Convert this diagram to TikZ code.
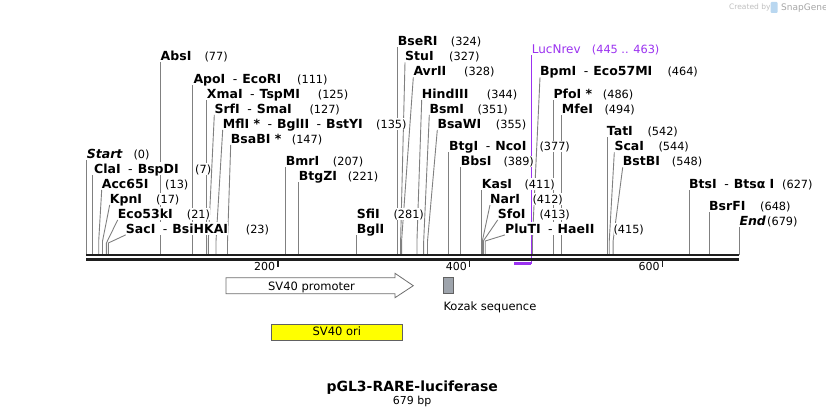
\documentclass[tikz,border=0pt]{standalone}
\usepackage{fontspec}
\setmainfont{DejaVu Sans}

\definecolor{leadgray}{RGB}{128,128,128}
\definecolor{seqblack}{RGB}{30,30,30}
\definecolor{primerpurple}{RGB}{155,50,240}
\definecolor{kozakgray}{RGB}{158,164,172}
\definecolor{featline}{RGB}{110,110,110}
\definecolor{orifill}{RGB}{255,255,0}
\definecolor{logoblue}{RGB}{185,215,240}

\pgfdeclarelayer{background}
\pgfsetlayers{background,main}

% base pair -> x in px
\newcommand{\bpx}[1]{86.2+0.9615*#1}
\newcommand{\cutsep}{\hspace{7.5pt}{\mdseries -}\hspace{5pt}}

\tikzset{
  enzyme/.style={anchor=base west, inner xsep=0pt, inner ysep=1.5pt, text depth=0pt,
    fill=white, font=\fontsize{12.5}{13}\selectfont\bfseries},
  cutpos/.style={enzyme, font=\fontsize{11.3}{12}\selectfont},
  leader/.style={draw=leadgray, line width=0.9pt},
  primer/.style={draw=primerpurple, line width=1.1pt},
  seqline/.style={draw=seqblack},
  feattext/.style={anchor=base, inner sep=0pt, font=\fontsize{11.5}{12}\selectfont},
}

\begin{document}
\begin{tikzpicture}[x=1pt,y=-1pt]
\useasboundingbox (0,0) rectangle (826,417);

% cut sites
\coordinate (sStart) at ({\bpx{0}},255);
\coordinate (sClaI) at ({\bpx{7}},255);
\coordinate (sAcc65I) at ({\bpx{13}},255);
\coordinate (sKpnI) at ({\bpx{17}},255);
\coordinate (sEco53kI) at ({\bpx{21}},255);
\coordinate (sSacI) at ({\bpx{23}},255);
\coordinate (sAbsI) at ({\bpx{77}},255);
\coordinate (sApoI) at ({\bpx{111}},255);
\coordinate (sXmaI) at ({\bpx{125}},255);
\coordinate (sSrfI) at ({\bpx{127}},255);
\coordinate (sMflI) at ({\bpx{135}},255);
\coordinate (sBsaBI) at ({\bpx{147}},255);
\coordinate (sBmrI) at ({\bpx{207}},255);
\coordinate (sBtgZI) at ({\bpx{221}},255);
\coordinate (sSfiI) at ({\bpx{281}},255);
\coordinate (sBseRI) at ({\bpx{324}},255);
\coordinate (sStuI) at ({\bpx{327}},255);
\coordinate (sAvrII) at ({\bpx{328}},255);
\coordinate (sHindIII) at ({\bpx{344}},255);
\coordinate (sBsmI) at ({\bpx{351}},255);
\coordinate (sBsaWI) at ({\bpx{355}},255);
\coordinate (sBtgI) at ({\bpx{377}},255);
\coordinate (sBbsI) at ({\bpx{389}},255);
\coordinate (sKasI) at ({\bpx{411}},255);
\coordinate (sNarI) at ({\bpx{412}},255);
\coordinate (sSfoI) at ({\bpx{413}},255);
\coordinate (sPluTI) at ({\bpx{415}},255);
\coordinate (sBpmI) at ({\bpx{464}},255);
\coordinate (sPfoI) at ({\bpx{486}},255);
\coordinate (sMfeI) at ({\bpx{494}},255);
\coordinate (sTatI) at ({\bpx{542}},255);
\coordinate (sScaI) at ({\bpx{544}},255);
\coordinate (sBstBI) at ({\bpx{548}},255);
\coordinate (sBtsI) at ({\bpx{627}},255);
\coordinate (sBsrFI) at ({\bpx{648}},255);
\coordinate (sEnd) at ({\bpx{679}},255);
\coordinate (sLucA) at ({\bpx{445}},263.5);
\coordinate (sLucB) at ({\bpx{463}},263.5);

% labels
\node[enzyme] (Start) at (86.7,158.2) {\textit{Start}};
\node[cutpos] (Startn) at (133.3,158.2) {(0)};
\node[enzyme] (ClaI) at (94,173.2) {ClaI\cutsep BspDI};
\node[cutpos] (ClaIn) at (195,173.2) {(7)};
\node[enzyme] (Acc65I) at (101.7,188.2) {Acc65I};
\node[cutpos] (Acc65In) at (165,188.2) {(13)};
\node[enzyme] (KpnI) at (109.7,203.2) {KpnI};
\node[cutpos] (KpnIn) at (156,203.2) {(17)};
\node[enzyme] (Eco53kI) at (117.7,218.2) {Eco53kI};
\node[cutpos] (Eco53kIn) at (186.7,218.2) {(21)};
\node[enzyme] (SacI) at (125.7,233.2) {SacI\cutsep BsiHKAI};
\node[cutpos] (SacIn) at (245.7,233.2) {(23)};
\node[enzyme] (AbsI) at (160.5,60.7) {AbsI};
\node[cutpos] (AbsIn) at (204.3,60.7) {(77)};
\node[enzyme] (ApoI) at (193.3,83.2) {ApoI\cutsep EcoRI};
\node[cutpos] (ApoIn) at (297,83.2) {(111)};
\node[enzyme] (XmaI) at (206.7,98.2) {XmaI\cutsep TspMI};
\node[cutpos] (XmaIn) at (317.7,98.2) {(125)};
\node[enzyme] (SrfI) at (214.3,113.2) {SrfI\cutsep SmaI};
\node[cutpos] (SrfIn) at (309.3,113.2) {(127)};
\node[enzyme] (MflI) at (222.7,128.2) {MflI *\cutsep BglII\cutsep BstYI};
\node[cutpos] (MflIn) at (376,128.2) {(135)};
\node[enzyme] (BsaBI) at (230.7,143.2) {BsaBI *};
\node[cutpos] (BsaBIn) at (291.7,143.2) {(147)};
\node[enzyme] (BmrI) at (285.7,165.7) {BmrI};
\node[cutpos] (BmrIn) at (332.7,165.7) {(207)};
\node[enzyme] (BtgZI) at (298.7,180.7) {BtgZI};
\node[cutpos] (BtgZIn) at (347.7,180.7) {(221)};
\node[enzyme] (SfiI) at (356.7,218.2) {SfiI};
\node[cutpos] (SfiIn) at (393.3,218.2) {(281)};
\node[enzyme] (BglI) at (356.7,233.2) {BglI};
\node[enzyme] (BseRI) at (397.7,45.7) {BseRI};
\node[cutpos] (BseRIn) at (450.7,45.7) {(324)};
\node[enzyme] (StuI) at (405,60.7) {StuI};
\node[cutpos] (StuIn) at (449,60.7) {(327)};
\node[enzyme] (AvrII) at (413.3,75.7) {AvrII};
\node[cutpos] (AvrIIn) at (464,75.7) {(328)};
\node[enzyme] (HindIII) at (421.7,98.2) {HindIII};
\node[cutpos] (HindIIIn) at (486.7,98.2) {(344)};
\node[enzyme] (BsmI) at (429.3,113.2) {BsmI};
\node[cutpos] (BsmIn) at (477.3,113.2) {(351)};
\node[enzyme] (BsaWI) at (437.3,128.2) {BsaWI};
\node[cutpos] (BsaWIn) at (495.7,128.2) {(355)};
\node[enzyme] (BtgI) at (449,150.7) {BtgI\cutsep NcoI};
\node[cutpos] (BtgIn) at (539.3,150.7) {(377)};
\node[enzyme] (BbsI) at (460.7,165.7) {BbsI};
\node[cutpos] (BbsIn) at (503.3,165.7) {(389)};
\node[enzyme] (KasI) at (481.7,188.2) {KasI};
\node[cutpos] (KasIn) at (524.3,188.2) {(411)};
\node[enzyme] (NarI) at (490,203.2) {NarI};
\node[cutpos] (NarIn) at (532.3,203.2) {(412)};
\node[enzyme] (SfoI) at (497.7,218.2) {SfoI};
\node[cutpos] (SfoIn) at (539.3,218.2) {(413)};
\node[enzyme] (PluTI) at (505,233.2) {PluTI\cutsep HaeII};
\node[cutpos] (PluTIn) at (613.3,233.2) {(415)};
\node[enzyme, text=primerpurple, font=\fontsize{12}{12}\selectfont] (LucNrev) at (531.7,53.2) {LucNrev};
\node[cutpos, text=primerpurple] (LucNrevn) at (591.7,53.2) {(445 .. 463)};
\node[enzyme] (BpmI) at (540,75.7) {BpmI\cutsep Eco57MI};
\node[cutpos] (BpmIn) at (667.3,75.7) {(464)};
\node[enzyme] (PfoI) at (553.3,98.2) {PfoI *};
\node[cutpos] (PfoIn) at (602.7,98.2) {(486)};
\node[enzyme] (MfeI) at (561.7,113.2) {MfeI};
\node[cutpos] (MfeIn) at (604.3,113.2) {(494)};
\node[enzyme] (TatI) at (606.7,135.7) {TatI};
\node[cutpos] (TatIn) at (647.3,135.7) {(542)};
\node[enzyme] (ScaI) at (614.3,150.7) {ScaI};
\node[cutpos] (ScaIn) at (658.3,150.7) {(544)};
\node[enzyme] (BstBI) at (622.7,165.7) {BstBI};
\node[cutpos] (BstBIn) at (671.7,165.7) {(548)};
\node[enzyme] (BtsI) at (689,188.2) {BtsI\cutsep Btsα I};
\node[cutpos] (BtsIn) at (782,188.2) {(627)};
\node[enzyme] (BsrFI) at (709,210.7) {BsrFI};
\node[cutpos] (BsrFIn) at (760,210.7) {(648)};
\node[enzyme] (End) at (739.3,225.7) {\textit{End}};
\node[cutpos] (Endn) at (767,225.7) {(679)};

\begin{pgfonlayer}{background}
% straight leaders
\draw[leader] (sStart) -- (sStart |- Start.south);
\draw[leader] (sClaI) -- (sClaI |- ClaI.south);
\draw[leader] (sAbsI) -- (sAbsI |- AbsI.south);
\draw[leader] (sApoI) -- (sApoI |- ApoI.south);
\draw[leader] (sXmaI) -- (sXmaI |- XmaI.south);
\draw[leader] (sBmrI) -- (sBmrI |- BmrI.south);
\draw[leader] (sBtgZI) -- (sBtgZI |- BtgZI.south);
\draw[leader] (sSfiI) -- (sSfiI |- BglI.south);
\draw[leader] (sBseRI) -- (sBseRI |- BseRI.south);
\draw[leader] (sBtgI) -- (sBtgI |- BtgI.south);
\draw[leader] (sBbsI) -- (sBbsI |- BbsI.south);
\draw[leader] (sKasI) -- (sKasI |- KasI.south);
\draw[leader] (sPfoI) -- (sPfoI |- PfoI.south);
\draw[leader] (sMfeI) -- (sMfeI |- MfeI.south);
\draw[leader] (sTatI) -- (sTatI |- TatI.south);
\draw[leader] (sBtsI) -- (sBtsI |- BtsI.south);
\draw[leader] (sBsrFI) -- (sBsrFI |- BsrFI.south);
\draw[leader] (sEnd) -- (sEnd |- End.south);
% bent leaders
\draw[leader] (sAcc65I) -- ++(0,-14) -- (Acc65I.south west);
\draw[leader] (sKpnI) -- ++(0,-14) -- (KpnI.south west);
\draw[leader] (sEco53kI) -- ++(0,-12) -- (Eco53kI.south west);
\draw[leader] (sSacI) -- ++(0,-12) -- (SacI.south west);
\draw[leader] (sSrfI) -- ++(0,-14) -- (SrfI.south west);
\draw[leader] (sMflI) -- ++(0,-14) -- (MflI.south west);
\draw[leader] (sBsaBI) -- ++(0,-14) -- (BsaBI.south west);
\draw[leader] (sStuI) -- ++(0,-14) -- (StuI.south west);
\draw[leader] (sAvrII) -- ++(0,-14) -- (AvrII.south west);
\draw[leader] (sHindIII) -- ++(0,-14) -- (HindIII.south west);
\draw[leader] (sBsmI) -- ++(0,-14) -- (BsmI.south west);
\draw[leader] (sBsaWI) -- ++(0,-14) -- (BsaWI.south west);
\draw[leader] (sNarI) -- ++(0,-14) -- (NarI.south west);
\draw[leader] (sSfoI) -- ++(0,-14) -- (SfoI.south west);
\draw[leader] (sPluTI) -- ++(0,-14) -- (PluTI.south west);
\draw[leader] (sBpmI) -- ++(0,-14) -- (BpmI.south west);
\draw[leader] (sScaI) -- ++(0,-14) -- (ScaI.south west);
\draw[leader] (sBstBI) -- ++(0,-14) -- (BstBI.south west);
% primer
\draw[primer] (sLucB) -- (sLucB |- LucNrev.south);
\draw[primer, line width=2.2pt] (sLucA) -- (sLucB);
% sequence
\draw[seqline, line width=2.5pt] (sStart |- 0,255) -- (sEnd |- 0,255);
\draw[seqline, line width=2.7pt] (sStart |- 0,259.4) -- (sEnd |- 0,259.4);
\end{pgfonlayer}

% ruler
\foreach \t/\x in {200/277.8,400/469.5,600/662.4} {
  \draw[seqline, line width=1.8pt] (\x,260) -- (\x,267.3);
  \node[anchor=base east, inner sep=0pt, font=\fontsize{11}{12}\selectfont] (tick\t) at (\x-2.5,270.5) {\t};
}

% features
\draw[featline, fill=white, line width=0.8pt] (226,277.7) -- (395,277.7) -- (395,273.3)
  -- (413.3,285.7) -- (395,297.7) -- (395,293.7) -- (226,293.7) -- cycle;
\node[feattext] (promoter) at (311.5,290) {SV40 promoter};
\draw[draw=seqblack!70, fill=kozakgray, line width=0.8pt] (443.3,277.3) rectangle (453.3,293.3);
\node[feattext, anchor=base west] (kozak) at (443.3,310.5) {Kozak sequence};
\draw[draw=seqblack!70, fill=orifill, line width=0.8pt] (271.3,324) rectangle (402.3,340.3);
\node[feattext] (ori) at (336.8,335.5) {SV40 ori};

% title
\node[anchor=base, inner sep=0pt, font=\fontsize{14}{16}\selectfont\bfseries] (title) at (412.2,391) {pGL3-RARE-luciferase};
\node[anchor=base, inner sep=0pt, font=\fontsize{11}{12}\selectfont] (length) at (412.2,404.5) {679 bp};

% watermark
\node[anchor=base west, inner sep=0pt, text=black!25, font=\fontsize{7.5}{8}\selectfont] (created) at (729,10) {Created by};
\fill[logoblue, rounded corners=1pt] (770.5,2) rectangle (777.5,13);
\node[anchor=base west, inner sep=0pt, text=black!35, font=\fontsize{9}{10}\selectfont] (snapgene) at (781,10.5) {SnapGene};
\end{tikzpicture}
\end{document}
